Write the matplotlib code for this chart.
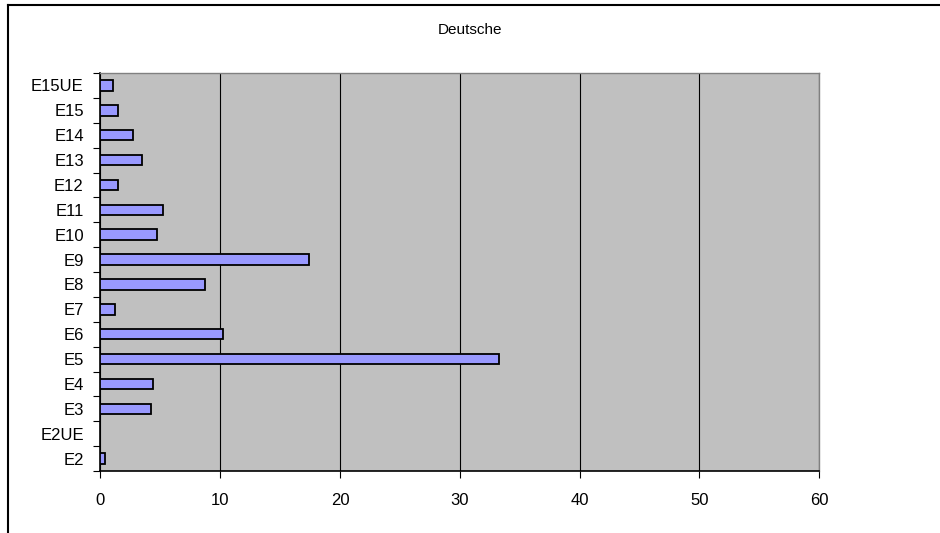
import matplotlib as mpl
mpl.use('Agg')
import matplotlib.pyplot as plt
import numpy as np
from matplotlib.lines import Line2D

plt.rcParams['font.family'] = ['Liberation Sans', 'DejaVu Sans']

# Kategorien von unten nach oben
categories = ['E2', 'E2UE', 'E3', 'E4', 'E5', 'E6', 'E7', 'E8', 'E9',
              'E10', 'E11', 'E12', 'E13', 'E14', 'E15', 'E15UE']
values = [0.35, 0, 4.2, 4.35, 33.3, 10.2, 1.2, 8.7, 17.4,
          4.7, 5.2, 1.5, 3.5, 2.7, 1.5, 1.05]
x_ticks = [0, 10, 20, 30, 40, 50, 60]

fig = plt.figure(figsize=(9.4, 5.33), dpi=100)
ax = fig.add_axes([0.1069, 0.1163, 0.7644, 0.7467])
ax.set_facecolor('#C0C0C0')

pos = np.arange(len(categories))
ax.barh(pos, values, height=0.42, color='#9999FF', edgecolor='black',
        linewidth=1.3, zorder=3)

ax.set_xlim(0, 60)
ax.set_ylim(-0.5, len(categories) - 0.5)
ax.set_xticks(x_ticks)
ax.set_xticklabels([str(t) for t in x_ticks])
ax.set_yticks(pos)
ax.set_yticklabels(categories)
ax.set_yticks(np.arange(len(categories) + 1) - 0.5, minor=True)

ax.xaxis.grid(True, color='black', linewidth=0.8, zorder=1)
ax.set_axisbelow(True)

ax.tick_params(axis='y', which='major', length=0, pad=12, labelsize=12)
ax.tick_params(axis='y', which='minor', length=5, width=0.8, direction='out')
ax.tick_params(axis='x', which='major', length=5, width=0.8, direction='out',
               pad=11, labelsize=12)

for side in ('top', 'right'):
    ax.spines[side].set_color('#808080')
    ax.spines[side].set_linewidth(1)
for side in ('left', 'bottom'):
    ax.spines[side].set_color('black')
    ax.spines[side].set_linewidth(1.2)

fig.text(0.5, 1 - 30 / 533, 'Deutsche', ha='center', va='center', fontsize=11)

# Rahmen oben und links
fig.add_artist(Line2D([8 / 940, 1], [1 - 5 / 533, 1 - 5 / 533],
                      transform=fig.transFigure, color='black', linewidth=1.5))
fig.add_artist(Line2D([8 / 940, 8 / 940], [0, 1 - 5 / 533],
                      transform=fig.transFigure, color='black', linewidth=1.5))

fig.savefig('out.png', dpi=100)
